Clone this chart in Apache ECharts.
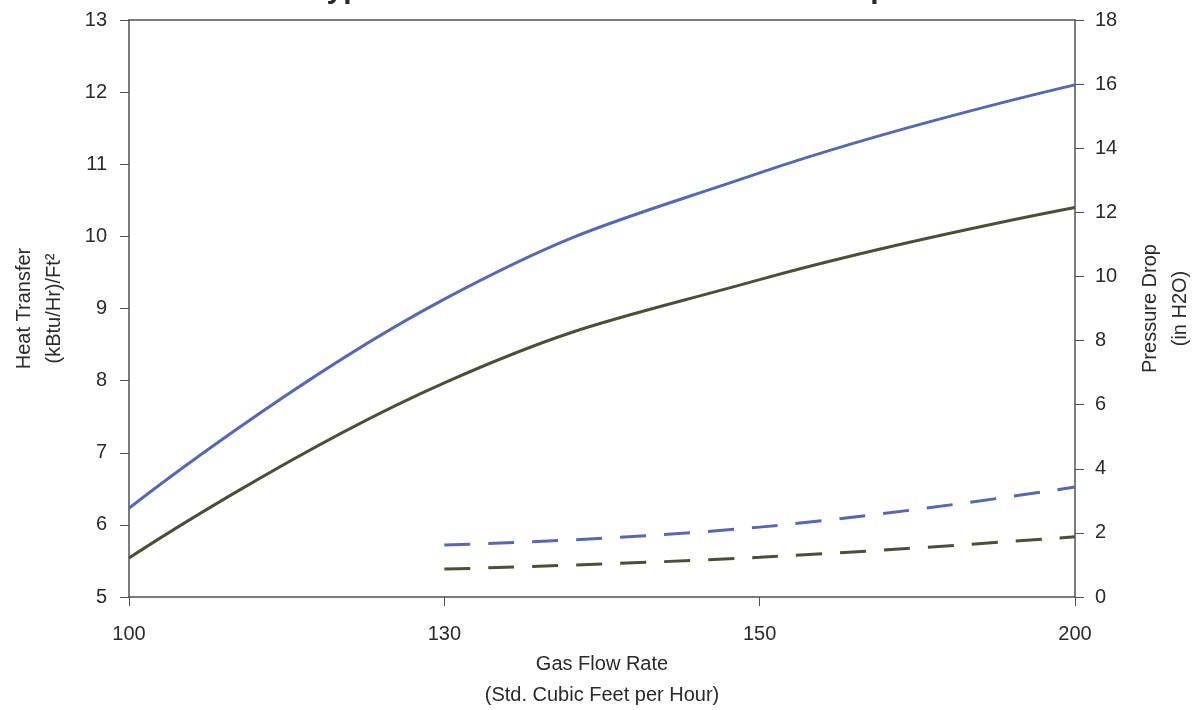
<!DOCTYPE html>
<html>
<head>
<meta charset="utf-8">
<script src="https://cdn.jsdelivr.net/npm/echarts@6/dist/echarts.min.js"></script>
<style>
html,body{margin:0;padding:0;background:#ffffff;}
#chart{width:1199px;height:710px;}
</style>
</head>
<body>
<div id="chart"></div>
<script>
const categories = ['100', '130', '150', '200'];
const heatBlue = [6.23, 9.13, 10.88, 12.10];
const heatDark = [5.54, 7.97, 9.40, 10.40];
const dropBlue = [null, 1.62, 2.18, 3.43];
const dropDark = [null, 0.87, 1.24, 1.88];

const BLUE = '#5868b0';
const DARK = '#4a5038';
const AXIS = '#505050';
const TEXT = '#2a2a2a';
const FONT = 'Liberation Sans, Arial, sans-serif';

const chart = echarts.init(document.getElementById('chart'));
chart.setOption({
  backgroundColor: '#ffffff',
  animation: false,
  title: {
    text: 'Typical Heat Transfer and Pressure Drop',
    left: 'center',
    top: -30,
    textStyle: { fontFamily: FONT, fontSize: 30, fontWeight: 'bold', color: TEXT }
  },
  grid: { left: 129, right: 124, top: 20, bottom: 113, containLabel: false, outerBoundsMode: 'none' },
  xAxis: [{
    type: 'category',
    data: categories,
    boundaryGap: false,
    position: 'bottom',
    axisLine: { lineStyle: { color: AXIS, width: 1.5 } },
    axisTick: { show: true, length: 9, lineStyle: { color: AXIS } },
    axisLabel: { margin: 27, fontFamily: FONT, fontSize: 20, color: TEXT },
    name: 'Gas Flow Rate\n(Std. Cubic Feet per Hour)',
    nameLocation: 'middle',
    nameGap: 50,
    nameTextStyle: { fontFamily: FONT, fontSize: 20, color: TEXT, lineHeight: 31, verticalAlign: 'top' },
    splitLine: { show: false }
  }, {
    type: 'category',
    data: categories,
    boundaryGap: false,
    position: 'top',
    axisLine: { lineStyle: { color: AXIS, width: 1.5 } },
    axisTick: { show: false },
    axisLabel: { show: false },
    splitLine: { show: false }
  }],
  yAxis: [{
    type: 'value',
    position: 'left',
    min: 5, max: 13, interval: 1,
    axisLine: { show: true, lineStyle: { color: AXIS, width: 1.5 } },
    axisTick: { show: true, length: 9, lineStyle: { color: AXIS } },
    axisLabel: { margin: 22, fontFamily: FONT, fontSize: 20, color: TEXT },
    splitLine: { show: false },
    name: 'Heat Transfer\n(kBtu/Hr)/Ft²',
    nameLocation: 'middle',
    nameRotate: 90,
    nameGap: 60,
    nameTextStyle: { fontFamily: FONT, fontSize: 20, color: TEXT, lineHeight: 30 }
  }, {
    type: 'value',
    position: 'right',
    min: 0, max: 18, interval: 2,
    axisLine: { show: true, lineStyle: { color: AXIS, width: 1.5 } },
    axisTick: { show: true, length: 9, lineStyle: { color: AXIS } },
    axisLabel: { margin: 20, fontFamily: FONT, fontSize: 20, color: TEXT },
    splitLine: { show: false },
    name: 'Pressure Drop\n(in H2O)',
    nameLocation: 'middle',
    nameRotate: 90,
    nameGap: 60,
    nameTextStyle: { fontFamily: FONT, fontSize: 20, color: TEXT, lineHeight: 30 }
  }],
  series: [{
    name: 'Heat Transfer A',
    type: 'line',
    xAxisIndex: 0, yAxisIndex: 0,
    data: heatBlue,
    smooth: 0.45,
    symbol: 'none',
    lineStyle: { color: BLUE, width: 3 }
  }, {
    name: 'Heat Transfer B',
    type: 'line',
    xAxisIndex: 0, yAxisIndex: 0,
    data: heatDark,
    smooth: 0.45,
    symbol: 'none',
    lineStyle: { color: DARK, width: 3 }
  }, {
    name: 'Pressure Drop A',
    type: 'line',
    xAxisIndex: 0, yAxisIndex: 1,
    data: dropBlue,
    smooth: 0.45,
    symbol: 'none',
    lineStyle: { color: BLUE, width: 3, type: [26, 18] }
  }, {
    name: 'Pressure Drop B',
    type: 'line',
    xAxisIndex: 0, yAxisIndex: 1,
    data: dropDark,
    smooth: 0.45,
    symbol: 'none',
    lineStyle: { color: DARK, width: 3, type: [26, 18] }
  }]
});
</script>
</body>
</html>
